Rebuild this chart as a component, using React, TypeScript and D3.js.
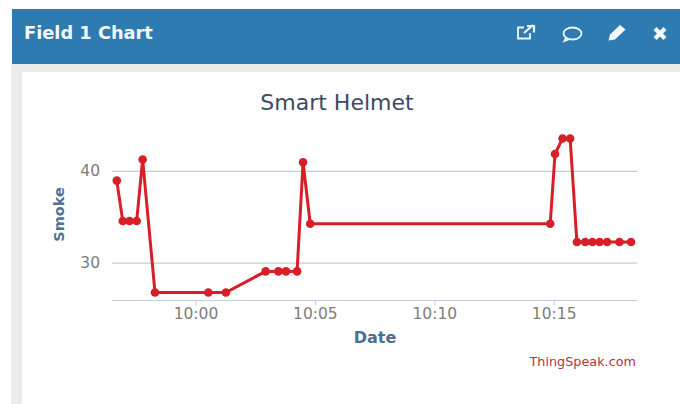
import React from "react";
import * as d3 from "d3";

const W = 680;
const H = 404;

const times = [
  "09:56:41", "09:56:56", "09:57:13", "09:57:31", "09:57:46", "09:58:17",
  "10:00:31", "10:01:15", "10:02:55", "10:03:27", "10:03:46", "10:04:14",
  "10:04:29", "10:04:47", "10:14:50", "10:15:02", "10:15:21", "10:15:40",
  "10:15:57", "10:16:18", "10:16:36", "10:16:54", "10:17:13", "10:17:44", "10:18:13",
];
const smoke = [
  39, 34.6, 34.6, 34.6, 41.3, 26.8,
  26.8, 26.8, 29.1, 29.1, 29.1, 29.1,
  41, 34.3, 34.3, 41.9, 43.6, 43.6,
  32.3, 32.3, 32.3, 32.3, 32.3, 32.3, 32.3,
];
const yTicks = [30, 40];
const xTickTimes = ["10:00:00", "10:05:00", "10:10:00", "10:15:00"];
const xDomain = ["09:56:29", "10:18:28"];
const yDomain = [25.926, 45];

const parse = d3.timeParse("%H:%M:%S");
const fmt = d3.timeFormat("%H:%M");

const FONT = "'DejaVu Sans', sans-serif";

export default function App() {
  const x = d3
    .scaleTime()
    .domain(xDomain.map((t) => parse(t) as Date))
    .range([112, 637]);
  const y = d3.scaleLinear().domain(yDomain).range([300.5, 125.6]);
  const pts = times.map((t, i) => [x(parse(t) as Date), y(smoke[i])] as [number, number]);
  const line = d3.line()(pts) as string;
  const axisY = y(yDomain[0]);

  return (
    <svg
      width={W}
      height={H}
      viewBox={`0 0 ${W} ${H}`}
      style={{ position: "fixed", left: 0, top: 0, display: "block" }}
    >
      <rect x={0} y={0} width={W} height={H} fill="#ffffff" />
      <rect x={11} y={64} width={W - 11} height={7} fill="#eeebe7" />
      <rect x={11} y={64} width={11} height={H - 64} fill="#ececec" />
      <rect x={22} y={70} width={W - 22} height={2} fill="#e6edf5" />
      <rect x={12} y={9} width={W - 12} height={55} fill="#2e7bb1" />
      <rect x={12} y={9} width={W - 12} height={2} fill="#3a7ba6" />
      <text x={24} y={39} fontFamily={FONT} fontWeight={700} fontSize={17.8} fill="#f4f8fb">
        Field 1 Chart
      </text>

      {/* header icons */}
      <g fill="none" stroke="#eef5fa" strokeWidth={1.8}>
        <path d="M530 33v5.5h-12v-11h6" />
        <path d="M524 33l9-8M527 26h7v6.5" strokeWidth={2.2} />
        <ellipse cx={572.5} cy={33.5} rx={9} ry={6} />
        <path d="M566 38l-1.5 3 5-2" />
      </g>
      <g fill="#f4f8fb">
        <path d="M608.500 40.500l1.500-6 10-9.500 5.500 4.500-10.500 10z" />
        <path d="M653.500 30l3-3 3.500 3.500 3.500-3.500 3 3-3.500 3.500 3.500 3.500-3 3-3.500-3.500-3.500 3.500-3-3 3.500-3.500z" />
      </g>

      <text
        x={337}
        y={110}
        textAnchor="middle"
        fontFamily={FONT}
        fontSize={22}
        fill="#3b4a66"
      >
        Smart Helmet
      </text>

      {yTicks.map((t) => (
        <g key={t}>
          <line x1={112} x2={637} y1={y(t)} y2={y(t)} stroke="#c8ccd2" strokeWidth={1.2} />
          <text
            x={100}
            y={y(t) + 4.5}
            textAnchor="end"
            fontFamily={FONT}
            fontSize={15.5}
            fill="#7d7d7d"
          >
            {t}
          </text>
        </g>
      ))}

      <line x1={112} x2={637} y1={axisY} y2={axisY} stroke="#c0cfe0" strokeWidth={1.2} />
      {xTickTimes.map((t) => {
        const d = parse(t) as Date;
        return (
          <g key={t}>
            <line x1={x(d)} x2={x(d)} y1={axisY} y2={axisY + 5} stroke="#c0cfe0" />
            <text
              x={x(d)}
              y={319}
              textAnchor="middle"
              fontFamily={FONT}
              fontSize={15.5}
              fill="#7d7d7d"
            >
              {fmt(d)}
            </text>
          </g>
        );
      })}

      <text
        x={375}
        y={343}
        textAnchor="middle"
        fontFamily={FONT}
        fontWeight={700}
        fontSize={16}
        fill="#4d6d94"
      >
        Date
      </text>
      <text
        transform="translate(64,214.500) rotate(-90)"
        textAnchor="middle"
        fontFamily={FONT}
        fontWeight={700}
        fontSize={14.5}
        fill="#4d7299"
      >
        Smoke
      </text>
      <text
        x={636}
        y={366}
        textAnchor="end"
        fontFamily={FONT}
        fontSize={12.8}
        fill="#b5333a"
      >
        ThingSpeak.com
      </text>

      <path d={line} fill="none" stroke="#d81e26" strokeWidth={3} strokeLinejoin="round" />
      {pts.map((p, i) => (
        <circle key={times[i]} cx={p[0]} cy={p[1]} r={4.3} fill="#d81e26" />
      ))}
    </svg>
  );
}
